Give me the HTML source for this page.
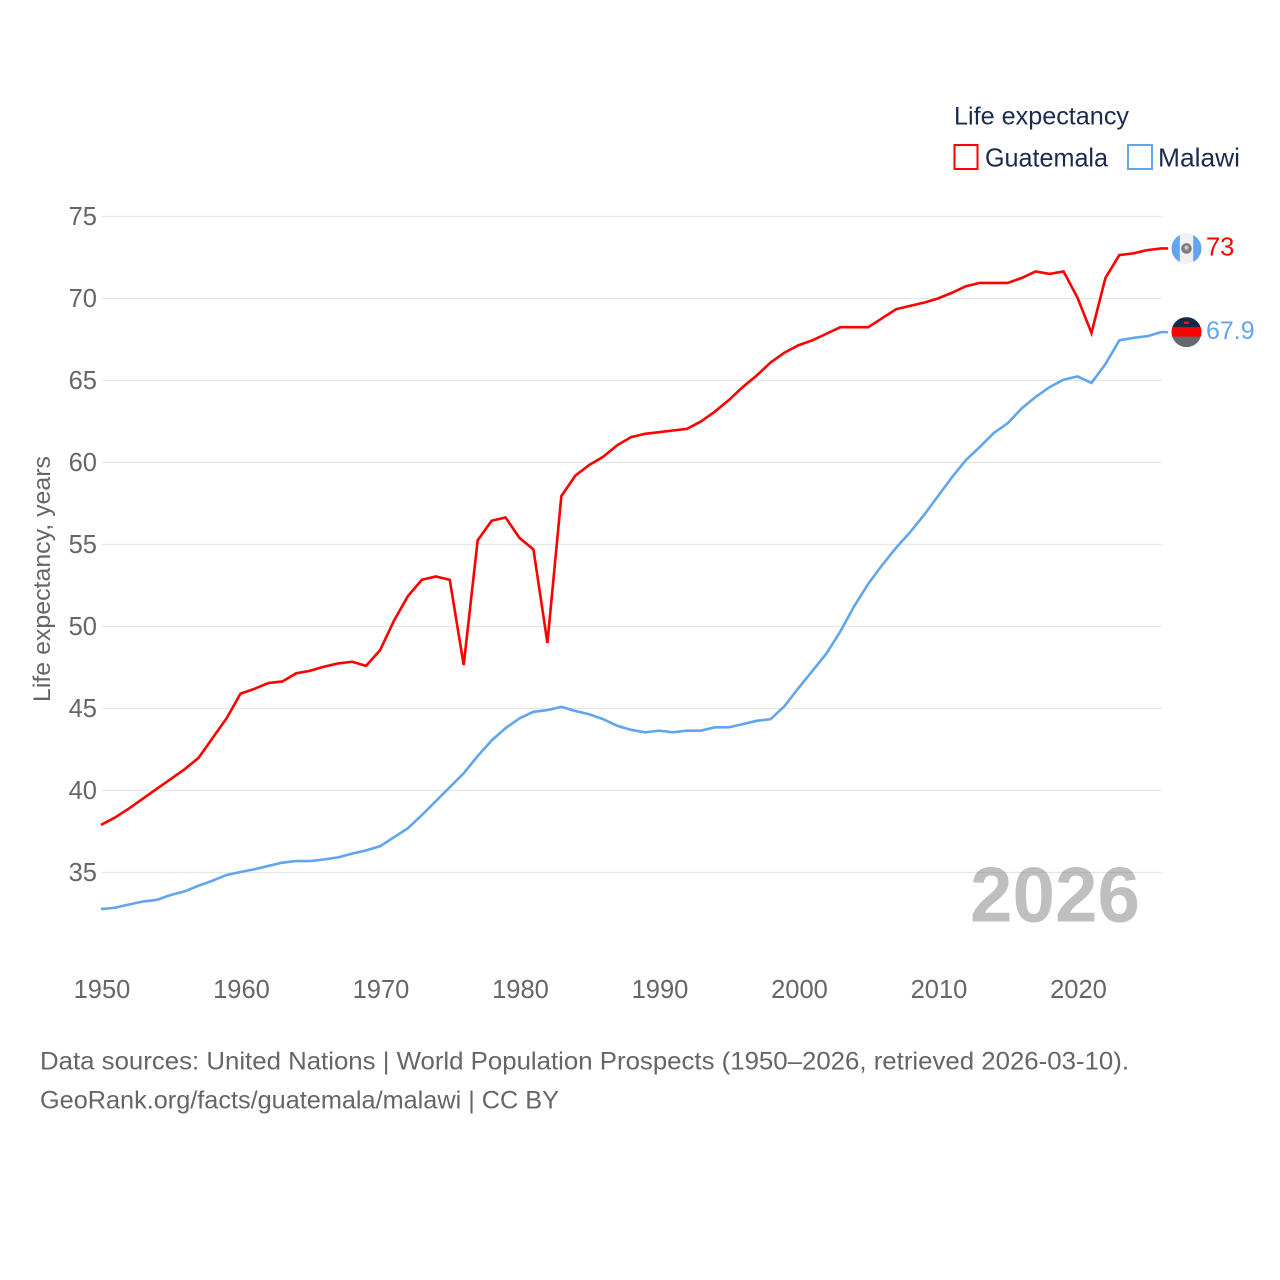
<!DOCTYPE html>
<html lang="en">
<head>
<meta charset="utf-8">
<title>Life expectancy: Guatemala and Malawi</title>
<style>
html,body{margin:0;padding:0;background:#fff;}
svg{display:block;font-family:"Liberation Sans",sans-serif;}
</style>
</head>
<body>
<svg id="chart" xmlns="http://www.w3.org/2000/svg" width="1280" height="1280" viewBox="0 0 1280 1280">
  <defs>
    <clipPath id="clip-guatemala"><circle id="clip-guatemala-circle" r="15"></circle></clipPath>
    <clipPath id="clip-malawi"><circle id="clip-malawi-circle" r="15"></circle></clipPath>
  </defs>
  <rect width="1280" height="1280" fill="#fff"></rect>
  <g id="grid"></g>
  <g id="yticks"></g>
  <g id="xticks"></g>
  <text transform="translate(50,579) rotate(-90)" text-anchor="middle" font-size="24" fill="#666" textLength="246" lengthAdjust="spacingAndGlyphs">Life expectancy, years</text>
  <g id="series"></g>
  <text x="970" y="921.5" font-size="78" font-weight="700" fill="#808080" fill-opacity="0.5" textLength="170" lengthAdjust="spacingAndGlyphs">2026</text>
  <g id="flags"></g>
  <g>
    <text x="954" y="124.5" font-size="25" fill="#1a2c4e" textLength="175" lengthAdjust="spacingAndGlyphs">Life expectancy</text>
    <rect x="954.5" y="145" width="23" height="24" fill="none" stroke="#ff0000" stroke-width="2"></rect>
    <text x="985" y="166.5" font-size="26" fill="#1a2c4e" textLength="123" lengthAdjust="spacingAndGlyphs">Guatemala</text>
    <rect x="1128" y="145" width="24" height="24" fill="none" stroke="#60a5ee" stroke-width="2"></rect>
    <text x="1158" y="166.5" font-size="26" fill="#1a2c4e" textLength="82" lengthAdjust="spacingAndGlyphs">Malawi</text>
  </g>
  <g>
    <text x="40" y="1069.5" font-size="25" fill="#666" textLength="1089" lengthAdjust="spacingAndGlyphs">Data sources: United Nations | World Population Prospects (1950–2026, retrieved 2026-03-10).</text>
    <text x="40" y="1108.5" font-size="25" fill="#666" textLength="519" lengthAdjust="spacingAndGlyphs">GeoRank.org/facts/guatemala/malawi | CC BY</text>
  </g>
</svg>
<script>
var startYear = 1950;
var endYear = 2026;
var yTickValues = [35, 40, 45, 50, 55, 60, 65, 70, 75];
var xTickValues = [1950, 1960, 1970, 1980, 1990, 2000, 2010, 2020];
var guatemalaValues = [37.9,38.35,38.9,39.5,40.1,40.7,41.3,42.0,43.2,44.4,45.9,46.2,46.55,46.65,47.15,47.3,47.55,47.75,47.85,47.6,48.55,50.35,51.85,52.85,53.05,52.85,47.65,55.25,56.45,56.65,55.4,54.7,49.0,57.95,59.2,59.85,60.35,61.05,61.55,61.75,61.85,61.95,62.05,62.5,63.1,63.8,64.6,65.3,66.1,66.7,67.15,67.45,67.85,68.25,68.25,68.25,68.8,69.35,69.55,69.75,70.0,70.35,70.75,70.95,70.95,70.95,71.25,71.65,71.5,71.65,70.05,67.9,71.25,72.65,72.75,72.95,73.05];
var malawiValues = [32.77,32.85,33.05,33.23,33.33,33.63,33.85,34.2,34.5,34.85,35.03,35.2,35.4,35.6,35.7,35.7,35.8,35.92,36.15,36.35,36.6,37.15,37.7,38.5,39.35,40.2,41.05,42.1,43.05,43.8,44.4,44.8,44.9,45.1,44.85,44.65,44.35,43.95,43.7,43.55,43.65,43.55,43.65,43.65,43.85,43.85,44.05,44.25,44.35,45.15,46.25,47.3,48.35,49.7,51.25,52.6,53.75,54.8,55.75,56.8,57.95,59.1,60.15,60.95,61.8,62.4,63.3,64.0,64.6,65.05,65.25,64.85,66.0,67.45,67.6,67.7,67.95];
var guatemalaEndLabel = "73";
var malawiEndLabel = "67.9";

var NS = "http://www.w3.org/2000/svg";
function xScale(year) { return 101 + (year - 1950) * 13.95; }
function yScale(v) { return 872.5 - (v - 35) * 16.4; }
function make(tag, attrs, parent) {
  var el = document.createElementNS(NS, tag);
  for (var k in attrs) { el.setAttribute(k, attrs[k]); }
  parent.appendChild(el);
  return el;
}

var gridG = document.getElementById("grid");
var yG = document.getElementById("yticks");
var xG = document.getElementById("xticks");
var seriesG = document.getElementById("series");
var flagsG = document.getElementById("flags");

yTickValues.forEach(function (v) {
  var line = make("line", {x1: 102, x2: 1161.5, y1: yScale(v), y2: yScale(v), stroke: "#e6e6e6", "stroke-width": 1.3}, gridG);
  
  
  var t = make("text", {x: 97, y: yScale(v) + 8.5, "text-anchor": "end", "font-size": 25.5, fill: "#666"}, yG);
  
  
  t.textContent = String(v);
});

xTickValues.forEach(function (year) {
  var t = make("text", {x: xScale(year) + 1, y: 998, "text-anchor": "middle", "font-size": 25.5, fill: "#666"}, xG);
  
  
  t.textContent = String(year);
});

function linePoints(values) {
  var pts = values.map(function (v, i) {
    return xScale(startYear + i).toFixed(2) + "," + yScale(v).toFixed(2);
  });
  var last = values[values.length - 1];
  pts.push((xScale(endYear) + 7).toFixed(2) + "," + yScale(last).toFixed(2));
  return pts.join(" ");
}

var guatemalaLine = make("polyline", {points: linePoints(guatemalaValues), fill: "none", stroke: "#ff0000", "stroke-width": 2.6, "stroke-linejoin": "miter"}, seriesG);


var malawiLine = make("polyline", {points: linePoints(malawiValues), fill: "none", stroke: "#60a5ee", "stroke-width": 2.6, "stroke-linejoin": "miter"}, seriesG);



var flagX = xScale(endYear) + 25.3;

/* Guatemala flag */
var gy = yScale(guatemalaValues[guatemalaValues.length - 1]);
document.getElementById("clip-guatemala-circle").setAttribute("cx", flagX);
document.getElementById("clip-guatemala-circle").setAttribute("cy", gy);
var gFlag = make("g", {"clip-path": "url(#clip-guatemala)"}, flagsG);


make("rect", {x: flagX - 15, y: gy - 15, width: 30, height: 30, fill: "#60a5ee"}, gFlag);
make("rect", {x: flagX - 6.7, y: gy - 15, width: 13.4, height: 30, fill: "#f1f1f4"}, gFlag);
make("circle", {cx: flagX, cy: gy, r: 4, fill: "#8a8a8a", stroke: "#7d7d7d", "stroke-width": 2.6}, gFlag);
make("circle", {cx: flagX, cy: gy - 1, r: 2, fill: "#c8c8c8"}, gFlag);

/* Malawi flag */
var my = yScale(malawiValues[malawiValues.length - 1]);
document.getElementById("clip-malawi-circle").setAttribute("cx", flagX);
document.getElementById("clip-malawi-circle").setAttribute("cy", my);
var mFlag = make("g", {"clip-path": "url(#clip-malawi)"}, flagsG);


make("rect", {x: flagX - 15, y: my - 15, width: 30, height: 10.5, fill: "#16284a"}, mFlag);
make("rect", {x: flagX - 15, y: my - 5, width: 30, height: 10, fill: "#ff0000"}, mFlag);
make("rect", {x: flagX - 15, y: my + 4.5, width: 30, height: 11, fill: "#68686c"}, mFlag);
make("rect", {x: flagX - 2.6, y: my - 10.5, width: 5.2, height: 2.4, fill: "#e8141c"}, mFlag);

var gLabel = make("text", {x: 1206, y: gy + 7, "font-size": 25.5, fill: "#ff0000"}, flagsG);


gLabel.textContent = guatemalaEndLabel;
var mLabel = make("text", {x: 1206, y: my + 7, "font-size": 25, fill: "#60a5ee"}, flagsG);


mLabel.textContent = malawiEndLabel;
</script>
</body>
</html>
